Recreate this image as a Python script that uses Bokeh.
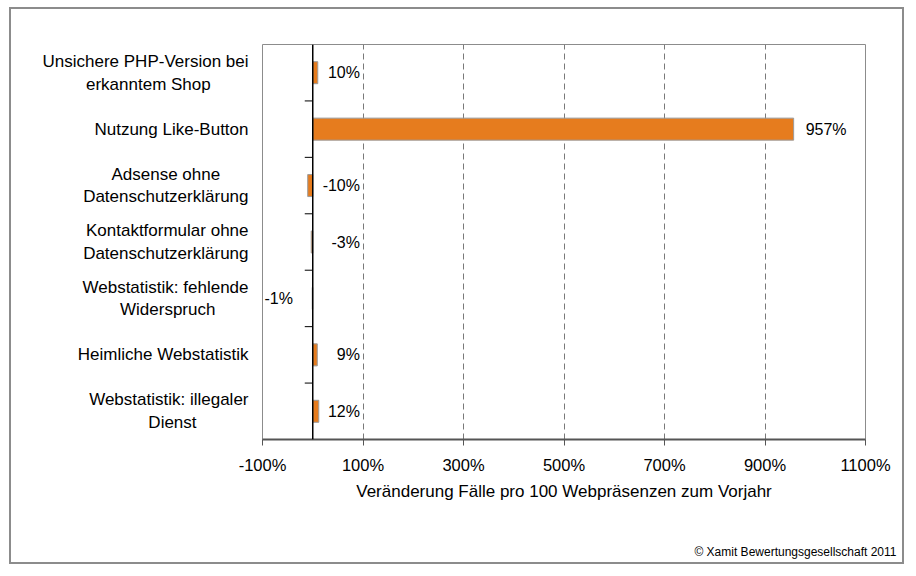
from bokeh.plotting import figure
from bokeh.models import (Range1d, FixedTicker, PrintfTickFormatter, Span,
                          Title, ColumnDataSource)
from bokeh.core.properties import value
from bokeh.embed import file_html
from bokeh.resources import INLINE

# Categories from top to bottom
categories = [
    "Unsichere PHP-Version bei\nerkanntem Shop",
    "Nutzung Like-Button",
    "Adsense ohne\nDatenschutzerklärung",
    "Kontaktformular ohne\nDatenschutzerklärung",
    "Webstatistik: fehlende\nWiderspruch",
    "Heimliche Webstatistik",
    "Webstatistik: illegaler\nDienst",
]
# Change of cases per 100 websites vs. previous year, in percent
changes = [10, 957, -10, -3, -1, 9, 12]
x_ticks = [-100, 100, 300, 500, 700, 900, 1100]
x_title = "Veränderung Fälle pro 100 Webpräsenzen zum Vorjahr"
credit = "© Xamit Bewertungsgesellschaft 2011"

FONT = "Liberation Sans"
CAT_SIZE = 17

# Advance widths of Liberation Sans / Arial (per 1000 em), used to centre the
# shorter line of a two-line category name under its longer line.
_W = {" ": 278, ":": 278, "-": 333, "a": 556, "b": 556, "c": 500, "d": 556,
      "e": 556, "f": 278, "g": 556, "h": 556, "i": 222, "j": 222, "k": 500,
      "l": 222, "m": 833, "n": 556, "o": 556, "p": 556, "q": 556, "r": 333,
      "s": 500, "t": 278, "u": 556, "v": 500, "w": 722, "x": 500, "y": 500,
      "z": 500, "ä": 556, "A": 667, "B": 667, "C": 722, "D": 722, "E": 667,
      "F": 611, "H": 722, "K": 667, "L": 556, "N": 722, "P": 667, "S": 667,
      "U": 722, "V": 667, "W": 944}
NBSP = "\u00a0"


def text_width(s):
    return sum(_W.get(ch, 556) for ch in s) / 1000.0


def centred(label):
    lines = label.split("\n")
    widest = max(text_width(l) for l in lines)
    out = []
    for l in lines:
        pad = round((widest - text_width(l)) / 2 / (_W[" "] / 1000.0) - 0.4)
        out.append(l + NBSP * max(pad, 0))
    return "\n".join(out)


n = len(categories)
ys = [n - i - 0.5 for i in range(n)]

p = figure(width=895, height=557, output_backend="svg", toolbar_location=None,
           x_range=Range1d(-100, 1100), y_range=Range1d(0, n),
           min_border_left=251, min_border_right=41,
           min_border_top=35, min_border_bottom=127)
p.styles = {"border": "2px solid #8c8c8c", "margin-left": "9px", "margin-top": "7px"}
p.background_fill_color = "white"
p.border_fill_color = "white"
p.outline_line_color = "#8c8c8c"
p.outline_line_width = 1

# vertical dashed grid
p.xgrid.ticker = FixedTicker(ticks=x_ticks)
p.xgrid.grid_line_color = "#7a7a7a"
p.xgrid.grid_line_dash = "6 4"
p.xgrid.grid_line_width = 1
p.ygrid.visible = False

# x axis
xa = p.xaxis[0]
xa.ticker = FixedTicker(ticks=x_ticks)
xa.formatter = PrintfTickFormatter(format="%d%%")
xa.axis_line_color = "#555555"
xa.axis_line_width = 2
xa.major_tick_line_color = "#555555"
xa.major_tick_out = 6
xa.major_tick_in = 0
xa.minor_tick_out = 0
xa.minor_tick_in = 0
xa.major_label_text_font = FONT
xa.major_label_text_font_size = "16.5px"
xa.major_label_text_color = "#000000"
xa.major_label_standoff = 10
xa.axis_label = x_title
xa.axis_label_text_font = FONT
xa.axis_label_text_font_size = "17px"
xa.axis_label_text_font_style = "normal"
xa.axis_label_text_color = "#000000"
xa.axis_label_standoff = 5

# y axis: category names only
ya = p.yaxis[0]
ya.ticker = FixedTicker(ticks=ys)
ya.major_label_overrides = {y: centred(c) for y, c in zip(ys, categories)}
ya.axis_line_color = None
ya.major_tick_line_color = None
ya.minor_tick_line_color = None
ya.major_label_text_font = FONT
ya.major_label_text_font_size = f"{CAT_SIZE}px"
ya.major_label_text_color = "#000000"
ya.major_label_text_line_height = 1.2
ya.major_label_standoff = 8

# bars
src = ColumnDataSource(dict(y=ys, v=changes))
p.hbar(y="y", left=0, right="v", height=0.39, source=src,
       fill_color="#E67C1E", line_color="#9a9a9a", line_width=1)

# zero line and category separators
p.add_layout(Span(location=0, dimension="height", line_color="#000000", line_width=1.5))
p.ray(x=0, y=list(range(1, n)), length=8, length_units="screen",
      angle=3.14159265, line_color="#000000", line_width=1)

# value labels
lab_x, lab_align, lab_off = [], [], []
for v in changes:
    if v > 100:
        lab_x.append(v); lab_align.append("left"); lab_off.append(12)
    elif -2 <= v < 0:
        lab_x.append(-96); lab_align.append("left"); lab_off.append(0)
    else:
        lab_x.append(94); lab_align.append("right"); lab_off.append(0)
lsrc = ColumnDataSource(dict(x=lab_x, y=ys, t=[f"{v}%" for v in changes],
                             a=lab_align, o=lab_off))
p.text(x="x", y="y", text="t", text_align="a", x_offset="o", source=lsrc,
       text_baseline="middle", text_font=value(FONT), text_font_size="16px",
       text_color="#000000")

# copyright line in the bottom right corner; the blank lines above it keep it
# low in the footer while the footer still fits under the x axis
p.add_layout(Title(text="\n\n" + credit, align="right", offset=-31, standoff=8,
                   vertical_align="bottom", text_line_height=1.25,
                   text_font=FONT, text_font_size="12px",
                   text_font_style="normal", text_color="#000000"), "below")

open("out.html", "w").write(file_html(p, INLINE))
